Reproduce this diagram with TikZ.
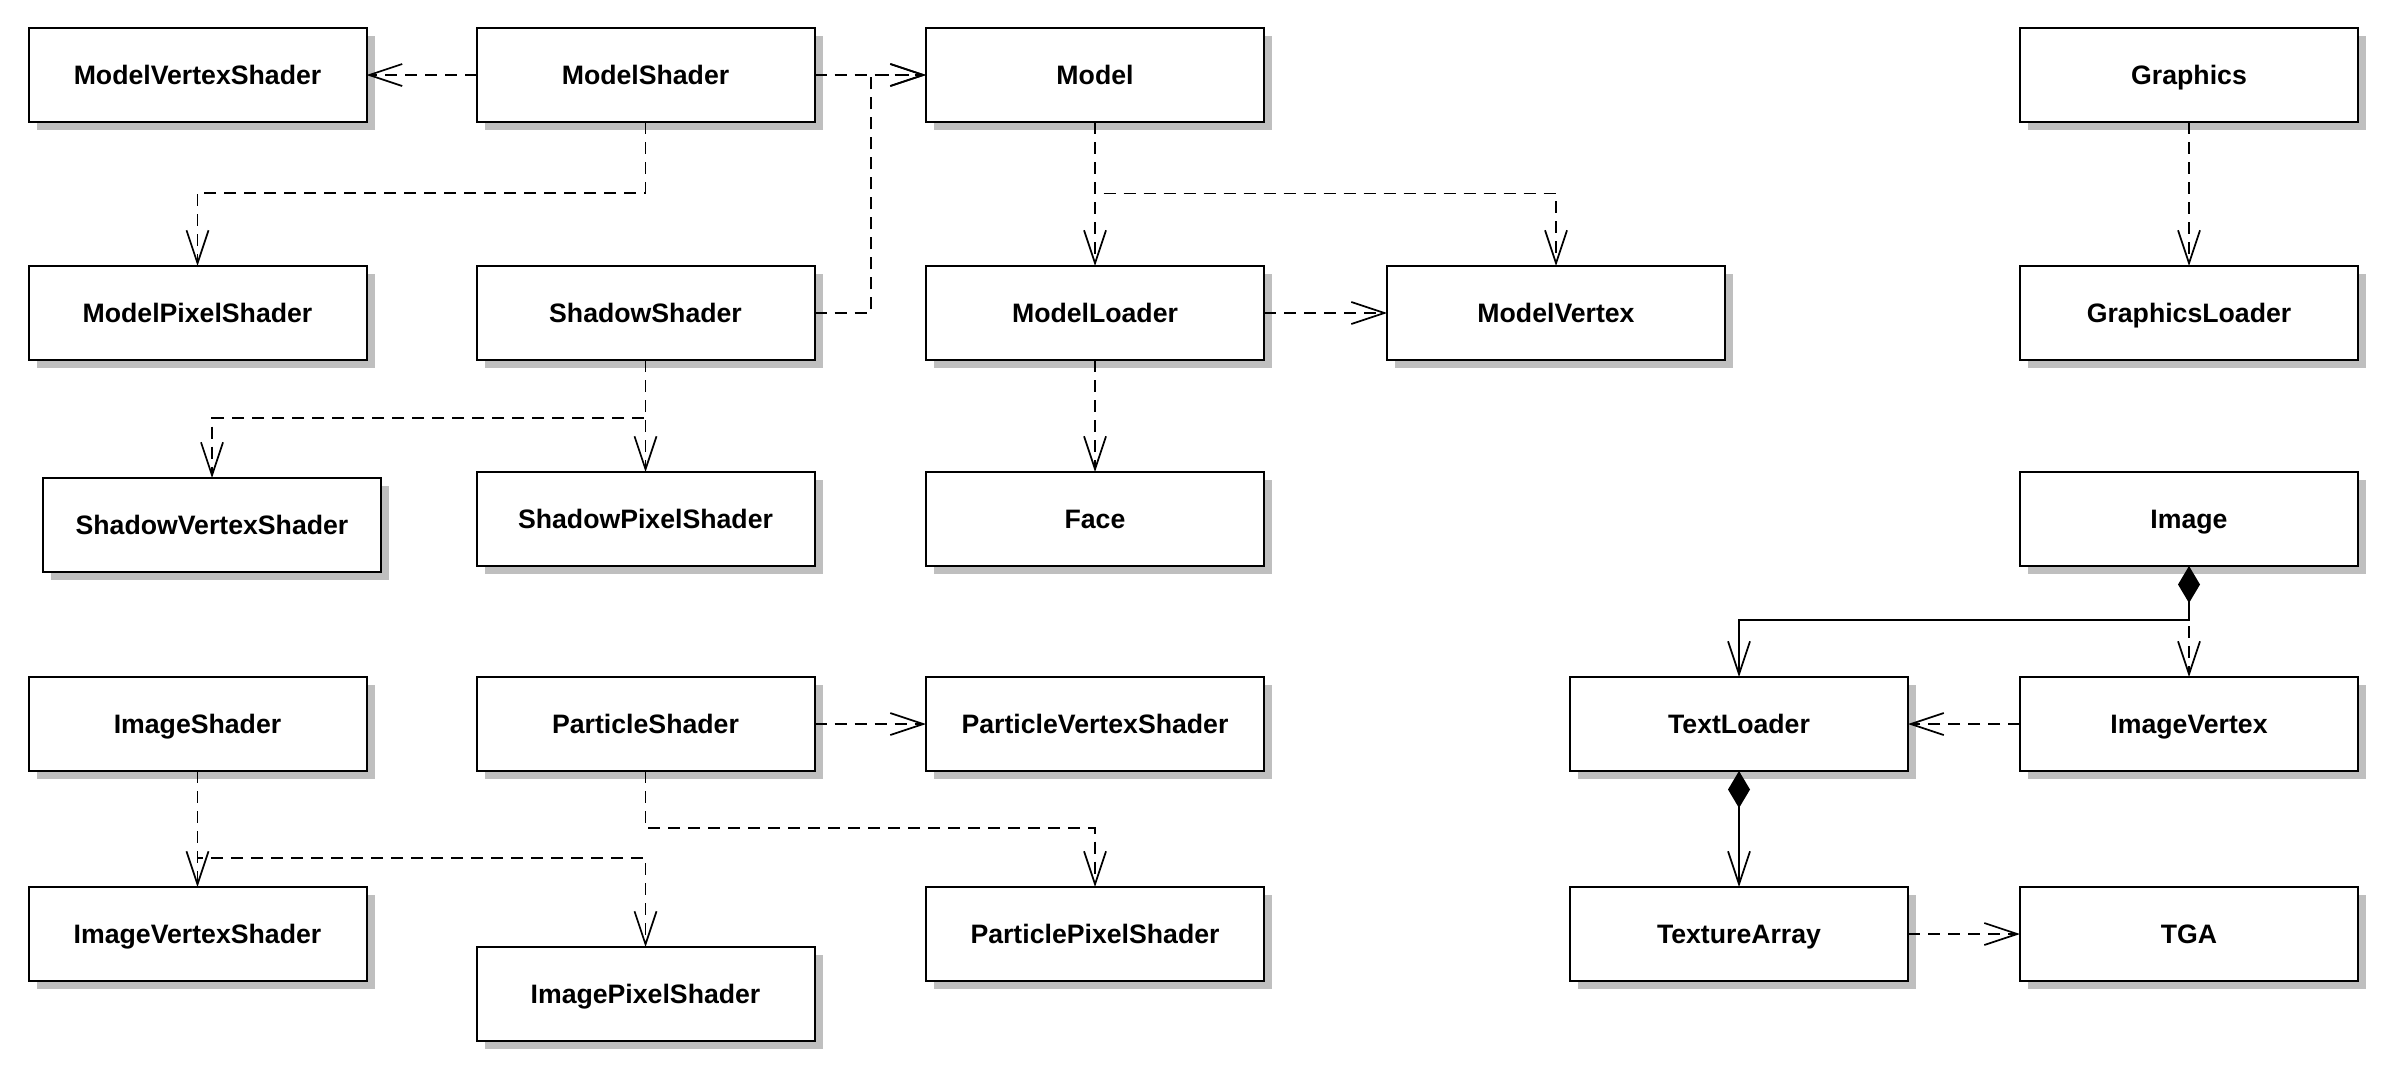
\documentclass[tikz,border=0pt]{standalone}
\usepackage{fontspec}
\setmainfont{Liberation Sans}
\usetikzlibrary{arrows.meta,shadows}
\begin{document}
\begin{tikzpicture}[x=0.75pt,y=-0.75pt,
  cls/.style={draw, line width=1.5pt, fill=white, anchor=north west,
    minimum width=253.5pt, minimum height=70.5pt, inner sep=0pt, outer sep=0pt,
    text height=14.3pt, text depth=0pt,
    font=\bfseries\fontsize{20}{24}\selectfont,
    drop shadow={shadow xshift=6pt, shadow yshift=-6pt, fill=black!25, opacity=1}},
  depline/.style={line width=1.3pt, dash pattern=on 9pt off 6pt,
    -{Straight Barb[length=24.75pt,width=16.5pt]}},
  compline/.style={line width=1.3pt,
    {Diamond[length=27.75pt,width=16.5pt]}-{Straight Barb[length=24.75pt,width=16.5pt]}}]
\useasboundingbox (0,0) rectangle (2395,1078);

% row 1
\node[cls] (MVS) at (28.5,28) {ModelVertexShader};
\node[cls] (MS)  at (476.5,28) {ModelShader};
\node[cls] (M)   at (926,28) {Model};
\node[cls] (G)   at (2020,28) {Graphics};
% row 2
\node[cls] (MPS) at (28.5,266) {ModelPixelShader};
\node[cls] (SS)  at (476.5,266) {ShadowShader};
\node[cls] (ML)  at (926,266) {ModelLoader};
\node[cls] (MV)  at (1387,266) {ModelVertex};
\node[cls] (GL)  at (2020,266) {GraphicsLoader};
% row 3
\node[cls] (SVS) at (43,478) {ShadowVertexShader};
\node[cls] (SPS) at (476.5,472) {ShadowPixelShader};
\node[cls] (Fc)  at (926,472) {Face};
\node[cls] (Im)  at (2020,472) {Image};
% row 4
\node[cls] (IS)  at (28.5,677) {ImageShader};
\node[cls] (PS)  at (476.5,677) {ParticleShader};
\node[cls] (PVS) at (926,677) {ParticleVertexShader};
\node[cls] (TL)  at (1570,677) {TextLoader};
\node[cls] (IV)  at (2020,677) {ImageVertex};
% row 5
\node[cls] (IVS) at (28.5,887) {ImageVertexShader};
\node[cls] (IPS) at (476.5,947) {ImagePixelShader};
\node[cls] (PPS) at (926,887) {ParticlePixelShader};
\node[cls] (TA)  at (1570,887) {TextureArray};
\node[cls] (TGA) at (2020,887) {TGA};

% junctions
\coordinate (jm) at (870.8,75);
\coordinate (k1) at (197.5,192.7);
\coordinate (k2) at (212,418.3);
\coordinate (k3) at (1556,193.5);
\coordinate (k4) at (2189,620.3);
\coordinate (k5) at (1095,828.3);
\coordinate (k6) at (645.5,857.7);

% connectors
\draw[depline] (MS.west) -- (MVS.east);
\draw[depline] (MS.east) -- (M.west);
\draw[depline] (SS.east) -| (jm) -- (M.west);
\draw[depline] (MS.south) |- (k1) -- (MPS.north);
\draw[depline] (SS.south) |- (k2) -- (SVS.north);
\draw[depline] (SS.south) -- (SPS.north);
\draw[depline] (M.south) -- (ML.north);
\draw[depline] (M.south) |- (k3) -- (MV.north);
\draw[depline] (ML.east) -- (MV.west);
\draw[depline] (ML.south) -- (Fc.north);
\draw[depline] (G.south) -- (GL.north);
\draw[depline] (Im.south) -- (IV.north);
\draw[compline] (Im.south) -- (k4) -| (TL.north);
\draw[depline] (IV.west) -- (TL.east);
\draw[compline] (TL.south) -- (TA.north);
\draw[depline] (TA.east) -- (TGA.west);
\draw[depline] (PS.east) -- (PVS.west);
\draw[depline] (PS.south) |- (k5) -- (PPS.north);
\draw[depline] (IS.south) -- (IVS.north);
\draw[depline] (IS.south) |- (k6) -- (IPS.north);
\end{tikzpicture}
\end{document}
